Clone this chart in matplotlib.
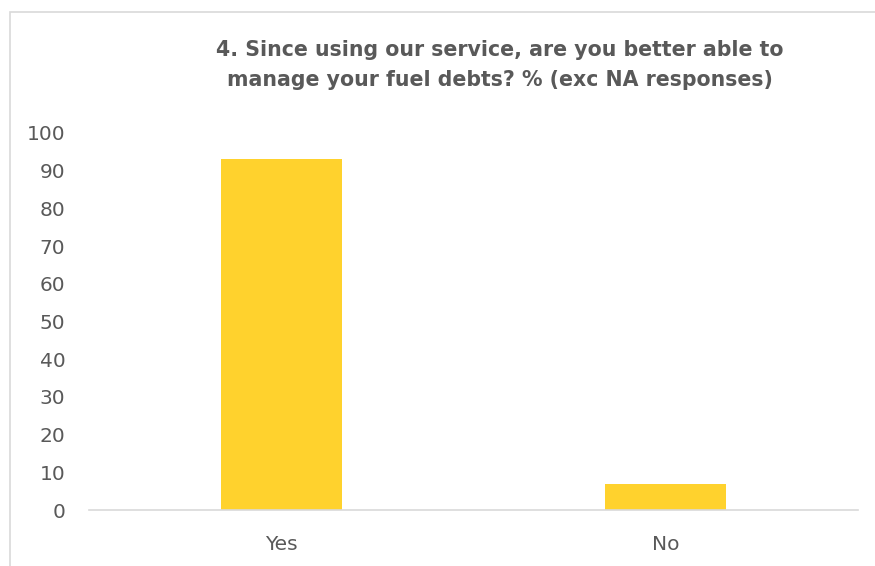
import matplotlib.pyplot as plt
from matplotlib.patches import Rectangle

categories = ["Yes", "No"]
values = [93.1, 6.9]

grey = "#595959"
plt.rcParams['font.family'] = ['DejaVu Sans']

fig = plt.figure(figsize=(8.75, 5.66), dpi=100)
fig.patches.append(Rectangle((10/875, -0.1), 1.2, 1 - 12/566 + 0.1, transform=fig.transFigure,
                             facecolor="white", edgecolor="#D9D9D9", linewidth=1.2, zorder=-1))

ax = fig.add_axes([89/875, 1 - 510/566, (858 - 89)/875, (510 - 133)/566])
ax.patch.set_alpha(0)
x = range(len(categories))
ax.bar(x, values, width=0.315, color="#FFD22D", zorder=2)
ax.set_xlim(-0.5, 1.5)
ax.set_ylim(0, 100)
ax.set_yticks(range(0, 101, 10))
ax.set_xticks(list(x))
ax.set_xticklabels(categories)
for s in ["top", "right", "left"]:
    ax.spines[s].set_visible(False)
ax.spines["bottom"].set_color("#D9D9D9")
ax.spines["bottom"].set_linewidth(1.2)
ax.tick_params(axis="both", length=0, labelsize=14.5, colors=grey)
ax.tick_params(axis="y", pad=17)
ax.tick_params(axis="x", pad=18)

fig.text(500/875, 1 - 65/566, "4. Since using our service, are you better able to\nmanage your fuel debts? % (exc NA responses)",
         ha="center", va="center", fontsize=14.8, fontweight="bold", color=grey, linespacing=1.6)

fig.savefig("out.png", dpi=100)
